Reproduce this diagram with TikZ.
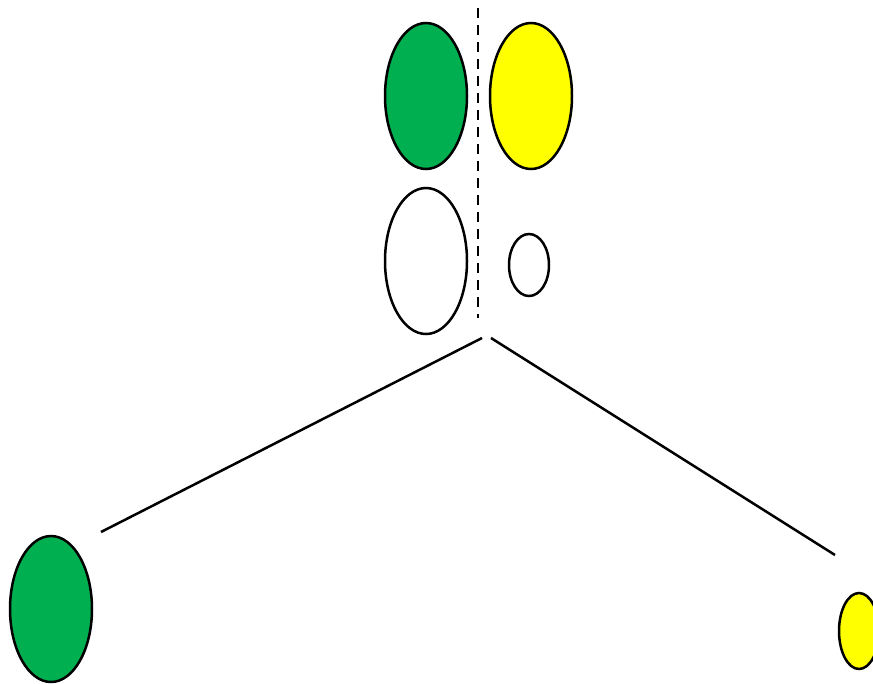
\documentclass[tikz,border=0pt]{standalone}
\usepackage{tikz}
\usetikzlibrary{shapes.geometric}

\definecolor{lobegreen}{RGB}{0,176,80}
\definecolor{lobeyellow}{RGB}{255,255,0}

\tikzset{
    lobe/.style={ellipse, draw=black, line width=2.5pt, inner sep=0pt,
        minimum width=82pt, minimum height=146pt},
    smalllobe/.style={ellipse, draw=black, line width=2.5pt, inner sep=0pt,
        minimum width=40pt, minimum height=62pt}
}

\begin{document}
\begin{tikzpicture}[x=1pt, y=-1pt]
    \clip (0,0) rectangle (873,683);
    \useasboundingbox (0,0) rectangle (873,683);

    % top pair
    \node[lobe, fill=lobegreen] (g1) at (426,96) {};
    \node[lobe, fill=lobeyellow] (y1) at (531,96) {};
    \node[lobe, fill=white] (w1) at (426,261) {};
    \node[smalllobe, fill=white] (w2) at (529,265) {};

    % bottom lobes
    \node[lobe, fill=lobegreen] (g2) at (51,609) {};
    \node[smalllobe, fill=lobeyellow, minimum height=76pt] (y2) at (859,631) {};

    % axis
    \coordinate (axtop) at (478,8);
    \coordinate (axbot) at (478,318);
    \draw[line width=2.5pt, dash pattern=on 10pt off 7pt] (axtop) -- (axbot);

    % bonds
    \coordinate (la) at (482,338);
    \coordinate (lb) at (101,532);
    \coordinate (ra) at (491,338);
    \coordinate (rb) at (835,555);
    \draw[line width=2.5pt] (la) -- (lb);
    \draw[line width=2.5pt] (ra) -- (rb);
\end{tikzpicture}
\end{document}
